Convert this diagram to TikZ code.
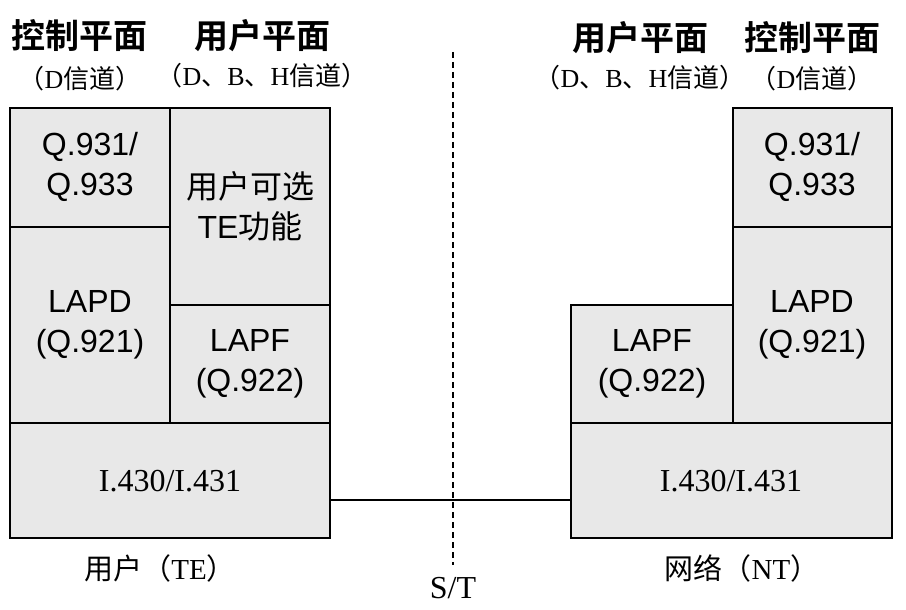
\documentclass[tikz,border=0pt]{standalone}
\usepackage{fontspec}
\setmainfont{Liberation Serif}
\setsansfont{Liberation Sans}
\newfontfamily\cjk{Noto Sans CJK SC}
\newfontfamily\cjkb{Noto Sans CJK SC Bold}
\begin{document}
\begin{tikzpicture}[x=1pt,y=-1pt,
  blk/.style={draw,line width=1.2pt,fill=gray!18},
  lbl/.style={align=center,font=\fontsize{32}{40}\selectfont},
  lbs/.style={align=center,font=\fontsize{32}{40}\selectfont\sffamily},
  hd/.style={font=\fontsize{34}{38}\selectfont\cjkb},
  sub/.style={font=\fontsize{26}{30}\selectfont}]
\useasboundingbox (0,0) rectangle (906,610);
% left
\draw[blk] (10,108) rectangle (170,227);
\draw[blk] (170,108) rectangle (330,305);
\draw[blk] (10,227) rectangle (170,423);
\draw[blk] (170,305) rectangle (330,423);
\draw[blk] (10,423) rectangle (330,538);
\node[lbs] (lq) at (90,167) {Q.931/\\Q.933};
\node[lbl] (lu) at (250,206) {{\cjk 用户可选}\\\sffamily TE{\cjk 功能}};
\node[lbs] (ld) at (90,325) {LAPD\\(Q.921)};
\node[lbs] (lf) at (250,364) {LAPF\\(Q.922)};
\node[lbl] (li) at (170,481) {I.430/I.431};
% right
\draw[blk] (733,108) rectangle (892,227);
\draw[blk] (733,227) rectangle (892,423);
\draw[blk] (571,305) rectangle (733,423);
\draw[blk] (571,423) rectangle (892,538);
\node[lbs] (rq) at (812,167) {Q.931/\\Q.933};
\node[lbs] (rd) at (812,325) {LAPD\\(Q.921)};
\node[lbs] (rf) at (652,364) {LAPF\\(Q.922)};
\node[lbl] (ri) at (731,481) {I.430/I.431};
\coordinate (a) at (330,500);
\coordinate (b) at (571,500);
\draw[line width=1.2pt] (a) -- (b);
\coordinate (t) at (453,52);
\coordinate (u) at (453,565);
\draw[dash pattern=on 6pt off 4pt,line width=1.4pt] (t) -- (u);
\node[lbl] (st) at (453,588) {S/T};
% headers
\node[hd] (h1) at (80,36) {控制平面};
\node[hd] (h2) at (262,36) {用户平面};
\node[sub] (s1) at (80,79) {\cjk （\rmfamily D\cjk 信道）};
\node[sub] (s2) at (262,76) {\cjk （\rmfamily D\cjk 、\rmfamily B\cjk 、\rmfamily H\cjk 信道）};
\node[hd] (h3) at (640,38) {用户平面};
\node[hd] (h4) at (812,38) {控制平面};
\node[sub] (s3) at (640,78) {\cjk （\rmfamily D\cjk 、\rmfamily B\cjk 、\rmfamily H\cjk 信道）};
\node[sub] (s4) at (812,79) {\cjk （\rmfamily D\cjk 信道）};
\node[sub,font=\fontsize{29}{34}\selectfont] (b1) at (160,568) {\cjk 用户（\rmfamily TE\cjk ）};
\node[sub,font=\fontsize{29}{34}\selectfont] (b2) at (742,568) {\cjk 网络（\rmfamily NT\cjk ）};
\end{tikzpicture}
\end{document}
